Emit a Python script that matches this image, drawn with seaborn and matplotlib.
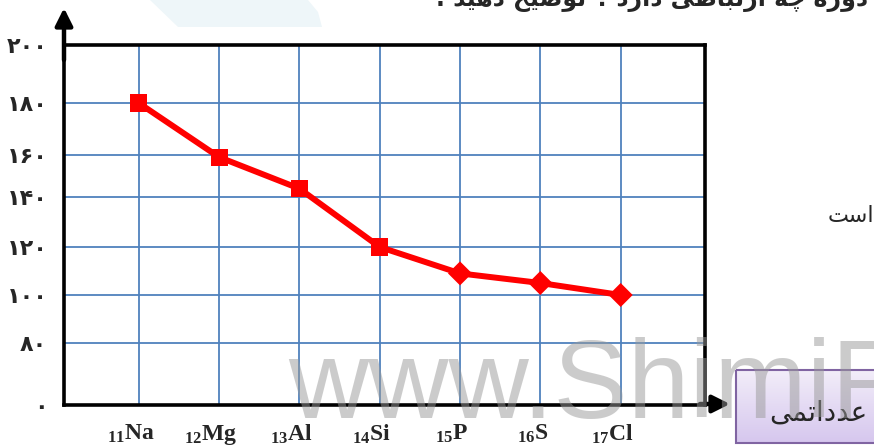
import numpy as np
import matplotlib.pyplot as plt
import matplotlib.transforms as mtransforms
from matplotlib.patches import Polygon, Rectangle, FancyArrowPatch
from matplotlib.colors import LinearSegmentedColormap
import seaborn as sns

sns.set_style('white')
plt.rcParams['font.family'] = ['DejaVu Sans']
plt.rcParams['mathtext.fontset'] = 'custom'
plt.rcParams['mathtext.rm'] = 'Liberation Serif:bold'
plt.rcParams['mathtext.it'] = 'Liberation Serif:bold'
plt.rcParams['mathtext.bf'] = 'Liberation Serif:bold'

# data
elements = ['Na', 'Mg', 'Al', 'Si', 'P', 'S', 'Cl']
atomic_numbers = [11, 12, 13, 14, 15, 16, 17]
radius = [180, 159, 144, 120, 109, 105, 100]
marker_kind = ['square', 'square', 'square', 'square', 'diamond', 'diamond', 'diamond']
y_ticks = [0, 80, 100, 120, 140, 160, 180, 200]
y_tick_labels = ['۰', '۸۰', '۱۰۰', '۱۲۰', '۱۴۰', '۱۶۰', '۱۸۰', '۲۰۰']
x_axis_title = 'عدداتمی'
side_text = 'است'
top_text = 'با دوره چه ارتباطی دارد ؟ توضیح دهید .'
watermark = 'www.ShimiP'

# hand drawn grid: pixel row of each y tick (figure is 447 px high)
grid_rows = np.array([405, 343, 295, 247, 197, 155, 103, 45])
grid_frac = (405 - grid_rows) / 360.0


def fwd(v):
    return np.interp(v, y_ticks, grid_frac)


def inv(u):
    return np.interp(u, grid_frac, y_ticks)


# no arabic shaping in matplotlib -> presentation forms, visual order
FORMS = {
    'ا': ('\ufe8d', '\ufe8e'), 'د': ('\ufea9', '\ufeaa'), 'ر': ('\ufead', '\ufeae'),
    'و': ('\ufeed', '\ufeee'),
    'ب': ('\ufe8f', '\ufe90', '\ufe91', '\ufe92'), 'ت': ('\ufe95', '\ufe96', '\ufe97', '\ufe98'),
    'ح': ('\ufea1', '\ufea2', '\ufea3', '\ufea4'), 'س': ('\ufeb1', '\ufeb2', '\ufeb3', '\ufeb4'),
    'ض': ('\ufebd', '\ufebe', '\ufebf', '\ufec0'), 'ط': ('\ufec1', '\ufec2', '\ufec3', '\ufec4'),
    'ع': ('\ufec9', '\ufeca', '\ufecb', '\ufecc'), 'م': ('\ufee1', '\ufee2', '\ufee3', '\ufee4'),
    'ه': ('\ufee9', '\ufeea', '\ufeeb', '\ufeec'), 'ی': ('\ufeef', '\ufef0', '\ufef3', '\ufef4'),
    'چ': ('\ufb7a', '\ufb7b', '\ufb7c', '\ufb7d'),
}


def rtl(s):
    out = []
    for i, ch in enumerate(s):
        if ch not in FORMS:
            out.append(ch)
            continue
        prev = s[i - 1] if i > 0 else ''
        nxt = s[i + 1] if i + 1 < len(s) else ''
        f = FORMS[ch]
        jp = prev in FORMS and len(FORMS[prev]) == 4
        jn = len(f) == 4 and nxt in FORMS
        if jp and jn:
            out.append(f[3])
        elif jp:
            out.append(f[1])
        elif jn:
            out.append(f[2])
        else:
            out.append(f[0])
    return ''.join(reversed(out))


fig = plt.figure(figsize=(8.74, 4.47), dpi=100)
ax = fig.add_axes([64 / 874, 42 / 447, (705 - 64) / 874, 360 / 447])
ax.set_yscale('function', functions=(fwd, inv))

x_pos = np.arange(len(elements))
blue = '#4f81bd'
sns.lineplot(x=x_pos, y=radius, color='#ff0000', lw=4.3, ax=ax, zorder=3)
sns.scatterplot(x=x_pos, y=radius, style=marker_kind, markers={'square': 's', 'diamond': 'D'},
                color='#ff0000', s=150, edgecolor='none', legend=False, ax=ax, zorder=4)

ax.set_xlim(-0.93, 7.05)
ax.set_ylim(0, 200)
ax.set_xticks(x_pos)
ax.set_xticklabels([f'$_{{{n}}}$' + el for n, el in zip(atomic_numbers, elements)],
                   family='Liberation Serif', weight='bold', fontsize=17)
ax.set_yticks(y_ticks)
ax.set_yticklabels(y_tick_labels, family='DejaVu Sans', weight='bold', fontsize=16)
ax.tick_params(axis='both', length=0)
ax.tick_params(axis='x', pad=13)
ax.tick_params(axis='y', pad=12)
ax.grid(True, color=blue, lw=1.3)
ax.set_axisbelow(True)
for side in ['left', 'right', 'top', 'bottom']:
    ax.spines[side].set_color('black')
    ax.spines[side].set_linewidth(2.6)
ax.set_xlabel('')
ax.set_ylabel('')
shift = mtransforms.ScaledTranslation(-0.08, 0, fig.dpi_scale_trans)
for lbl in ax.get_xticklabels():
    lbl.set_transform(lbl.get_transform() + shift)

# overlay in pixel coordinates for the page bits around the chart
ov = fig.add_axes([0, 0, 1, 1], zorder=5)
ov.patch.set_alpha(0)

ov.add_patch(Polygon([(150, 0), (178, 27), (322, 27), (318, 12), (308, 0)],
                     closed=True, color='#eef6f9', lw=0, zorder=0))

ov.add_patch(FancyArrowPatch((64, 60), (64, 8), arrowstyle='-|>', mutation_scale=26,
                             color='black', lw=3.2, shrinkA=0, shrinkB=0))
ov.add_patch(FancyArrowPatch((700, 404), (730, 404), arrowstyle='-|>', mutation_scale=26,
                             color='black', lw=3.2, shrinkA=0, shrinkB=0))

grad = np.linspace(0, 1, 60).reshape(-1, 1)
cmap = LinearSegmentedColormap.from_list('box', ['#f2edf9', '#d6c7ee'])
ov.imshow(grad, extent=[736, 890, 443, 370], origin='upper', aspect='auto', cmap=cmap, zorder=1)
ov.add_patch(Rectangle((736, 370), 154, 73, fill=False, edgecolor='#8064a2', lw=1.5, zorder=2))
ov.text(818, 413, rtl(x_axis_title), fontsize=20, ha='center', va='center', zorder=3)

ov.text(874, 216, rtl(side_text), fontsize=16, ha='right', va='center')
ov.text(436, 6, rtl(top_text), fontsize=17, weight='bold', ha='left', va='baseline')

ov.text(288, 418, watermark, family='Liberation Sans', fontsize=80, color='#999999',
        alpha=0.5, ha='left', va='baseline', zorder=10)

ov.set_xlim(0, 874)
ov.set_ylim(447, 0)
ov.axis('off')

fig.savefig('out.png', dpi=100)
